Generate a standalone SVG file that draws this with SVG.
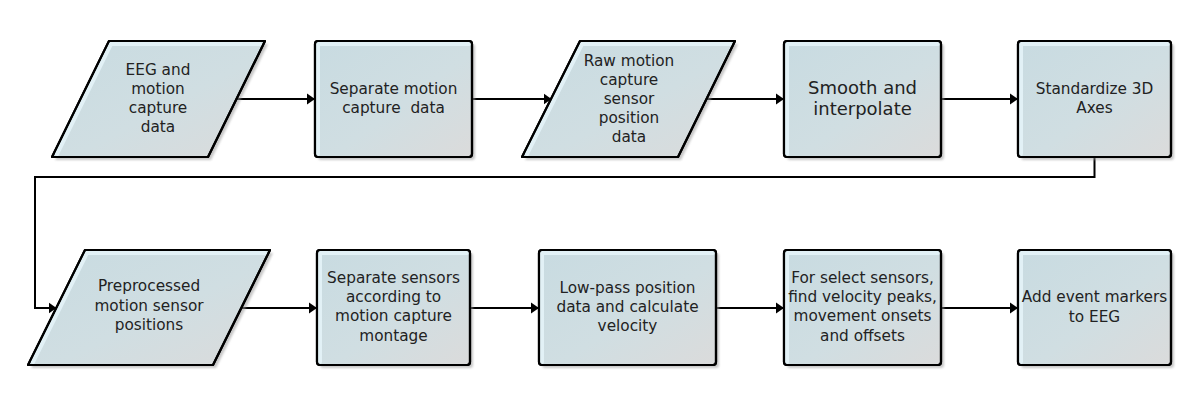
<svg xmlns="http://www.w3.org/2000/svg" width="1203" height="411" viewBox="0 0 1203 411">
<defs>
<linearGradient id="fillg" x1="0" y1="0" x2="1" y2="1">
<stop offset="0" stop-color="#c8dbe1"/>
<stop offset="0.55" stop-color="#d0dee2"/>
<stop offset="1" stop-color="#dbdbdb"/>
</linearGradient>
<filter id="sh" x="-10%" y="-10%" width="130%" height="130%">
<feGaussianBlur stdDeviation="1.2"/>
</filter>
<marker id="arr" markerUnits="userSpaceOnUse" markerWidth="10" markerHeight="12" refX="8" refY="6" orient="auto">
<path d="M0,0.5 L8,6 L0,11.5 Z" fill="#000"/>
</marker>
</defs>
<style>
.shadow{fill:#9a9a9a;opacity:0.55;filter:url(#sh)}
.shape{fill:url(#fillg);stroke:#000;stroke-width:2.2;stroke-linejoin:round}
.hl{fill:none;stroke:#e2f1f6;stroke-width:4;stroke-linejoin:round;stroke-linecap:round}
.lbl{font-family:"DejaVu Sans","Verdana",sans-serif;font-size:15.3px;fill:#222;text-anchor:middle}
.big{font-size:18px}
.conn{fill:none;stroke:#000;stroke-width:2;marker-end:url(#arr)}
</style>
<rect width="1203" height="411" fill="#fff"/>

<g id="connectors">
<path class="conn" d="M236.5,99 L315,99"/>
<path class="conn" d="M472,99 L551.5,99"/>
<path class="conn" d="M706.5,99 L784,99"/>
<path class="conn" d="M941,99 L1018,99"/>
<path class="conn" d="M1094.5,157 L1094.5,177 L35,177 L35,308 L56.5,308"/>
<path class="conn" d="M241.5,308 L317,308"/>
<path class="conn" d="M470,308 L539,308"/>
<path class="conn" d="M716,308 L784,308"/>
<path class="conn" d="M941,308 L1018,308"/>
</g>

<g id="n1">
<path class="shadow" d="M112,44 L268,44 L211,160 L55,160 Z"/>
<path class="shape" d="M109,41 L265,41 L208,157 L52,157 Z"/>
<path class="hl" d="M57,154 L111,44 L260,44"/>
<path class="shape" d="M109,41 L265,41 L208,157 L52,157 Z" style="fill:none"/>
<text class="lbl" x="158" y="75">EEG and</text>
<text class="lbl" x="158" y="94">motion</text>
<text class="lbl" x="158" y="113">capture</text>
<text class="lbl" x="158" y="132">data</text>
</g>

<g id="n2">
<rect class="shadow" x="318" y="44" width="157" height="116" rx="3"/>
<rect class="shape" x="315" y="41" width="157" height="116" rx="3"/>
<path class="hl" d="M318,154 L318,44 L469,44"/>
<rect class="shape" x="315" y="41" width="157" height="116" rx="3" style="fill:none"/>
<text class="lbl" x="393.5" y="94">Separate motion</text>
<text class="lbl" x="393.5" y="113">capture&#160; data</text>
</g>

<g id="n3">
<path class="shadow" d="M583,44 L738,44 L681,160 L525,160 Z"/>
<path class="shape" d="M580,41 L735,41 L678,157 L522,157 Z"/>
<path class="hl" d="M527,154 L582,44 L730,44"/>
<path class="shape" d="M580,41 L735,41 L678,157 L522,157 Z" style="fill:none"/>
<text class="lbl" x="629" y="66">Raw motion</text>
<text class="lbl" x="629" y="85">capture</text>
<text class="lbl" x="629" y="104">sensor</text>
<text class="lbl" x="629" y="123">position</text>
<text class="lbl" x="629" y="142">data</text>
</g>

<g id="n4">
<rect class="shadow" x="787" y="44" width="157" height="116" rx="3"/>
<rect class="shape" x="784" y="41" width="157" height="116" rx="3"/>
<path class="hl" d="M787,154 L787,44 L938,44"/>
<rect class="shape" x="784" y="41" width="157" height="116" rx="3" style="fill:none"/>
<text class="lbl big" x="862.5" y="94">Smooth and</text>
<text class="lbl big" x="862.5" y="115">interpolate</text>
</g>

<g id="n5">
<rect class="shadow" x="1021" y="44" width="153" height="116" rx="3"/>
<rect class="shape" x="1018" y="41" width="153" height="116" rx="3"/>
<path class="hl" d="M1021,154 L1021,44 L1168,44"/>
<rect class="shape" x="1018" y="41" width="153" height="116" rx="3" style="fill:none"/>
<text class="lbl" x="1094.5" y="94">Standardize 3D</text>
<text class="lbl" x="1094.5" y="113">Axes</text>
</g>

<g id="n6">
<path class="shadow" d="M88,253 L273,253 L216,368 L31,368 Z"/>
<path class="shape" d="M85,250 L270,250 L213,365 L28,365 Z"/>
<path class="hl" d="M33,362 L87,253 L265,253"/>
<path class="shape" d="M85,250 L270,250 L213,365 L28,365 Z" style="fill:none"/>
<text class="lbl" x="149" y="291">Preprocessed</text>
<text class="lbl" x="149" y="310.5">motion sensor</text>
<text class="lbl" x="149" y="330">positions</text>
</g>

<g id="n7">
<rect class="shadow" x="320" y="253" width="153" height="115" rx="3"/>
<rect class="shape" x="317" y="250" width="153" height="115" rx="3"/>
<path class="hl" d="M320,362 L320,253 L467,253"/>
<rect class="shape" x="317" y="250" width="153" height="115" rx="3" style="fill:none"/>
<text class="lbl" x="393.5" y="283">Separate sensors</text>
<text class="lbl" x="393.5" y="302">according to</text>
<text class="lbl" x="393.5" y="321">motion capture</text>
<text class="lbl" x="393.5" y="341">montage</text>
</g>

<g id="n8">
<rect class="shadow" x="542" y="253" width="177" height="115" rx="3"/>
<rect class="shape" x="539" y="250" width="177" height="115" rx="3"/>
<path class="hl" d="M542,362 L542,253 L713,253"/>
<rect class="shape" x="539" y="250" width="177" height="115" rx="3" style="fill:none"/>
<text class="lbl" x="627.5" y="293">Low-pass position</text>
<text class="lbl" x="627.5" y="312">data and calculate</text>
<text class="lbl" x="627.5" y="331">velocity</text>
</g>

<g id="n9">
<rect class="shadow" x="787" y="253" width="157" height="115" rx="3"/>
<rect class="shape" x="784" y="250" width="157" height="115" rx="3"/>
<path class="hl" d="M787,362 L787,253 L938,253"/>
<rect class="shape" x="784" y="250" width="157" height="115" rx="3" style="fill:none"/>
<text class="lbl" x="862.5" y="283">For select sensors,</text>
<text class="lbl" x="862.5" y="302">find velocity peaks,</text>
<text class="lbl" x="862.5" y="321">movement onsets</text>
<text class="lbl" x="862.5" y="341">and offsets</text>
</g>

<g id="n10">
<rect class="shadow" x="1021" y="253" width="153" height="115" rx="3"/>
<rect class="shape" x="1018" y="250" width="153" height="115" rx="3"/>
<path class="hl" d="M1021,362 L1021,253 L1168,253"/>
<rect class="shape" x="1018" y="250" width="153" height="115" rx="3" style="fill:none"/>
<text class="lbl" x="1094.5" y="302">Add event markers</text>
<text class="lbl" x="1094.5" y="322">to EEG</text>
</g>
</svg>
